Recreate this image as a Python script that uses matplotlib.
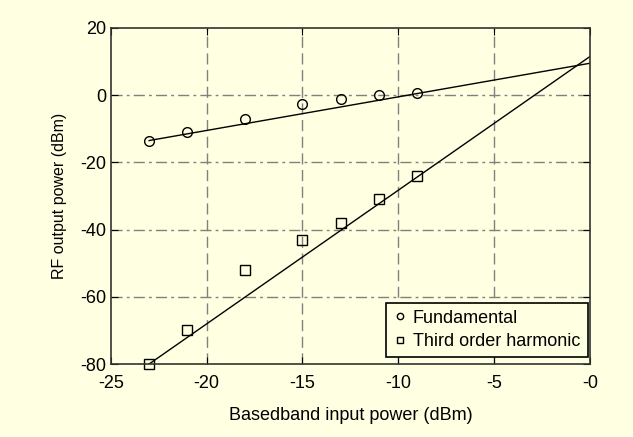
import matplotlib.pyplot as plt

plt.rcParams['font.family'] = ['Liberation Sans', 'DejaVu Sans']
plt.rcParams['axes.unicode_minus'] = False

# measured points
x_in = [-23, -21, -18, -15, -13, -11, -9]
fundamental = [-13.5, -11, -7, -2.5, -1, 0, 0.5]
third_harm = [-80, -70, -52, -43, -38, -31, -24]

# fitted lines (end points)
fit_x = [-23, 0]
fund_fit = [-13.5, 9.5]
third_fit = [-80, 11.5]

bg = '#ffffe1'

fig = plt.figure(figsize=(6.33, 4.37), dpi=100, facecolor=bg)
ax = fig.add_axes([0.175, 0.167, 0.757, 0.769])
ax.set_facecolor(bg)

ax.plot(fit_x, fund_fit, color='black', lw=1)
ax.plot(fit_x, third_fit, color='black', lw=1)
ax.plot(x_in, fundamental, 'o', mfc='none', mec='black', ms=7, mew=1,
        label='Fundamental', clip_on=False)
ax.plot(x_in, third_harm, 's', mfc='none', mec='black', ms=7, mew=1,
        label='Third order harmonic', clip_on=False)

ax.set_xlim(-25, 0)
ax.set_ylim(-80, 20)
ax.set_xticks([-25, -20, -15, -10, -5, 0])
ax.set_xticklabels(['-25', '-20', '-15', '-10', '-5', '-0'])
ax.set_yticks([-80, -60, -40, -20, 0, 20])

# grid: vertical dashed, horizontal dash-dot
for xv in [-20, -15, -10, -5]:
    ax.axvline(xv, color='#808080', lw=1, ls=(0, (8, 4)), zorder=0)
for yv in [-60, -40, -20, 0]:
    ax.axhline(yv, color='#808080', lw=1, ls=(0, (8, 3, 2, 3)), zorder=0)

ax.tick_params(direction='in', top=True, right=True, length=5,
               labelsize=13, colors='black')
ax.tick_params(axis='x', pad=8)
ax.tick_params(axis='y', pad=3)
for s in ax.spines.values():
    s.set_color('#333333')
    s.set_linewidth(1.2)

ax.set_xlabel('Basedband input power (dBm)', fontsize=13, labelpad=11)
ax.set_ylabel('RF output power (dBm)', fontsize=11.5, labelpad=10)

leg = ax.legend(loc='lower right', fontsize=13, frameon=True, fancybox=False,
                edgecolor='black', facecolor=bg, framealpha=1,
                handletextpad=0.3, handlelength=0.8, borderpad=0.4,
                labelspacing=0.35, markerscale=0.65, borderaxespad=0,
                bbox_to_anchor=(0.995, 0.02))
leg.get_frame().set_linewidth(1.2)

fig.savefig('out.png', dpi=100, facecolor=bg)
